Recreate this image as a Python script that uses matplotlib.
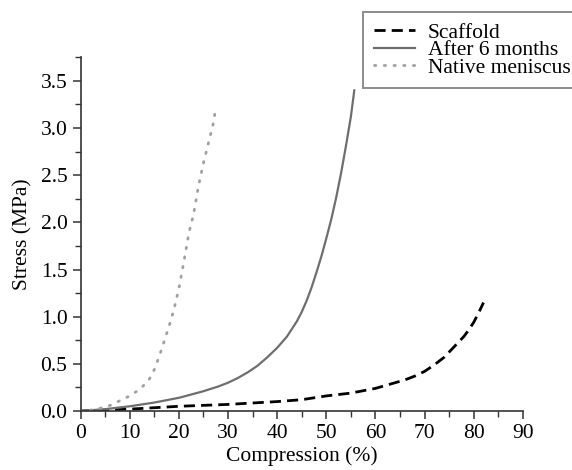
import matplotlib
matplotlib.use("Agg")
import matplotlib.pyplot as plt
from matplotlib.ticker import MultipleLocator, FormatStrFormatter

# values
scaffold_x = [0, 10, 20, 30, 40, 45, 50, 55, 58, 60, 62, 64, 66, 68, 70, 72, 74, 76, 78, 79, 80, 81, 82]
scaffold_y = [0, 0.02, 0.05, 0.07, 0.10, 0.12, 0.16, 0.19, 0.22, 0.24, 0.27, 0.30, 0.33, 0.37,
              0.42, 0.49, 0.57, 0.68, 0.79, 0.86, 0.94, 1.04, 1.15]

after_x = [0, 5, 10, 15, 20, 25, 28, 30, 32, 34, 36, 38, 40, 42, 43, 44, 45, 46, 47, 48, 49,
           50, 51, 52, 53, 54, 55, 55.7]
after_y = [0, 0.02, 0.05, 0.09, 0.14, 0.21, 0.26, 0.30, 0.35, 0.41, 0.48, 0.57, 0.67, 0.79,
           0.87, 0.95, 1.05, 1.17, 1.31, 1.47, 1.64, 1.83, 2.03, 2.26, 2.52, 2.81, 3.12, 3.40]

native_x = [0, 2, 4, 6, 8, 10, 12, 13, 14, 15, 16, 17, 18, 19, 20, 21, 22, 23, 24, 25, 26, 27, 27.4]
native_y = [0, 0.01, 0.03, 0.06, 0.11, 0.16, 0.23, 0.28, 0.34, 0.44, 0.58, 0.74, 0.90, 1.08,
            1.30, 1.58, 1.88, 2.09, 2.39, 2.63, 2.84, 3.05, 3.18]

labels = ["Scaffold", "After 6 months", "Native meniscus"]

plt.rcParams["font.family"] = ["Liberation Serif", "DejaVu Serif"]

fig = plt.figure(figsize=(5.72, 4.70), dpi=100)
ax = fig.add_axes([0.141, 0.1255, 0.773, 0.7525])

ax.plot(scaffold_x, scaffold_y, color="black", lw=2.0, ls=(0, (4, 2.2)), label=labels[0])
ax.plot(after_x, after_y, color="#6e6e6e", lw=1.6, ls="-", label=labels[1])
ax.plot(native_x, native_y, color="#a0a0a0", lw=2.0, ls=(0, (0.5, 3.0)),
        dash_capstyle="round", label=labels[2])

ax.set_xlim(0, 90)
ax.set_ylim(0, 3.75)
ax.xaxis.set_major_locator(MultipleLocator(10))
ax.xaxis.set_minor_locator(MultipleLocator(5))
ax.yaxis.set_major_locator(MultipleLocator(0.5))
ax.yaxis.set_minor_locator(MultipleLocator(0.25))
ax.yaxis.set_major_formatter(FormatStrFormatter("%.1f"))

for side in ["top", "right"]:
    ax.spines[side].set_visible(False)
for side in ["left", "bottom"]:
    ax.spines[side].set_color("#333333")
    ax.spines[side].set_linewidth(1.2)

ax.tick_params(which="major", direction="out", length=6, width=1.1, labelsize=15.5,
               color="#333333")
ax.tick_params(which="minor", direction="out", length=4, width=1.0, color="#333333")

ax.set_xlabel("Compression (%)", fontsize=15.5, labelpad=2)
ax.set_ylabel("Stress (MPa)", fontsize=15.5, labelpad=6)

leg = fig.legend(loc="upper left", bbox_to_anchor=(0.635, 0.975), fontsize=15.5,
                 frameon=True, fancybox=False, handlelength=1.9, handletextpad=0.6,
                 labelspacing=-0.12, borderpad=0.5, borderaxespad=0)
leg.get_frame().set_edgecolor("#707070")
leg.get_frame().set_linewidth(1.4)

fig.savefig("out.png", dpi=100)
